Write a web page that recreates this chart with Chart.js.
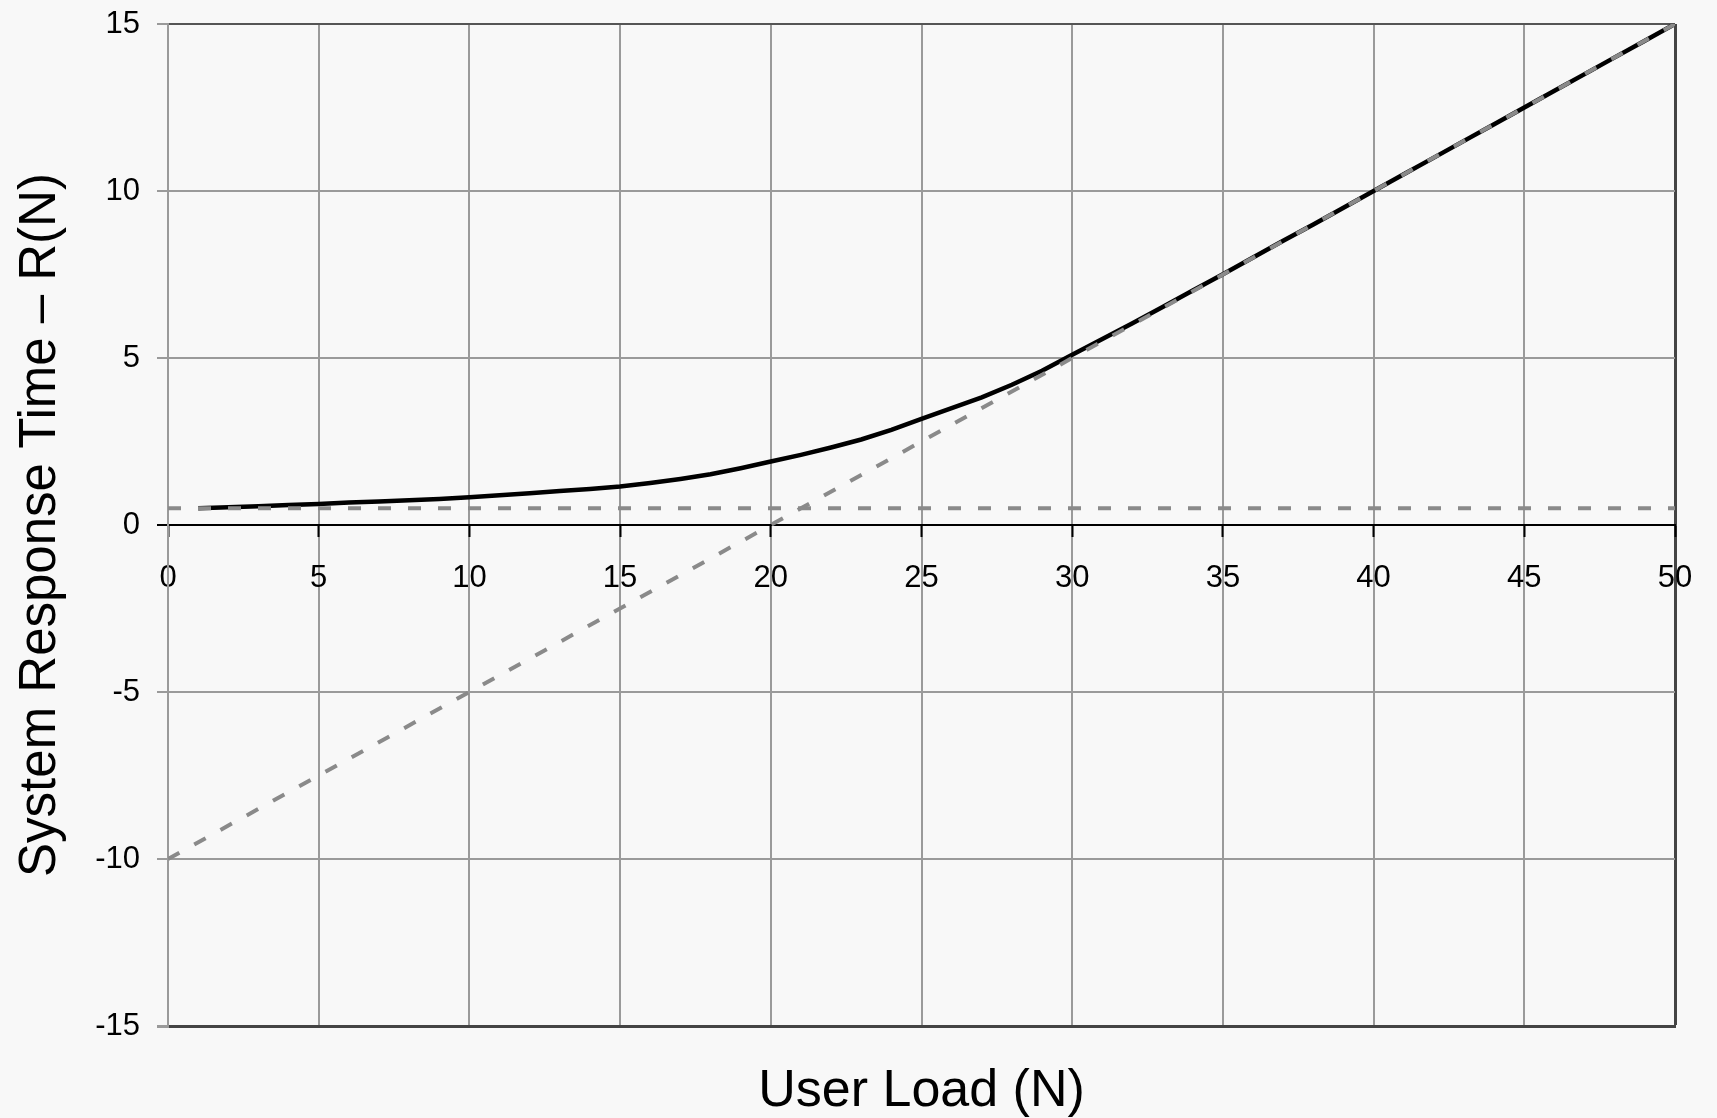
<!DOCTYPE html>
<html>
<head>
<meta charset="utf-8">
<script src="https://cdn.jsdelivr.net/npm/chart.js@4/dist/chart.umd.min.js"></script>
<style>
  html, body { margin: 0; padding: 0; background: #f8f8f8; }
  canvas { display: block; background: #f8f8f8; }
</style>
</head>
<body>
<canvas id="c" width="1717" height="1118"></canvas>
<script>
// User load N and measured response time R(N)
const loadN = [1,2,3,4,5,6,7,8,9,10,11,12,13,14,15,16,17,18,19,20,21,22,23,24,25,26,27,28,29,30,31,32,33,34,35,36,37,38,39,40,41,42,43,44,45,46,47,48,49,50];
const responseTime = [0.50,0.53,0.56,0.60,0.63,0.67,0.70,0.74,0.78,0.83,0.89,0.95,1.02,1.08,1.15,1.26,1.38,1.52,1.70,1.90,2.10,2.32,2.56,2.85,3.18,3.50,3.82,4.20,4.62,5.10,5.57,6.04,6.53,7.02,7.51,8.01,8.51,9.00,9.50,10.00,10.50,11.00,11.50,12.00,12.50,13.00,13.50,14.00,14.50,15.00];
// Asymptotic bounds
const lowerBoundN = [0, 50];
const lowerBoundR = [0.5, 0.5];
const heavyLoadN = [0, 50];
const heavyLoadR = [-10, 15];
// Axis ticks
const xTicks = [0,5,10,15,20,25,30,35,40,45,50];
const yTicks = [-15,-10,-5,0,5,10,15];

const xTitle = 'User Load (N)';
const yTitle = 'System Response Time \u2013 R(N)';

const toPts = (xs, ys) => xs.map((x, i) => ({x: x, y: ys[i]}));
const FONT = "'Liberation Sans', Arial, sans-serif";

new Chart(document.getElementById('c'), {
  type: 'line',
  data: {
    datasets: [
      { data: toPts(lowerBoundN, lowerBoundR), borderColor: '#8a8a8a', borderWidth: 4, borderDash: [13, 17], pointRadius: 0, tension: 0, order: 0 },
      { data: toPts(heavyLoadN, heavyLoadR), borderColor: '#8a8a8a', borderWidth: 4, borderDash: [13, 17], pointRadius: 0, tension: 0, order: 0 },
      { data: toPts(loadN, responseTime), borderColor: '#000', borderWidth: 4.5, pointRadius: 0, tension: 0, order: 1 }
    ]
  },
  options: {
    responsive: false,
    animation: false,
    events: [],
    layout: { padding: { top: 24, right: 42, bottom: 0, left: 0 } },
    plugins: { legend: { display: false }, tooltip: { enabled: false } },
    scales: {
      x: {
        type: 'linear', position: 'bottom', min: 0, max: 50,
        afterBuildTicks: s => { s.ticks = xTicks.map(v => ({value: v})); },
        ticks: { display: false },
        grid: {
          drawTicks: false,
          color: c => c.tick && c.tick.value === 50 ? '#444' : '#9a9a9a',
          lineWidth: c => c.tick && c.tick.value === 50 ? 3 : 2
        },
        border: { color: '#444', width: 3 },
        title: { display: true, text: xTitle, color: '#000', font: { family: FONT, size: 52, lineHeight: 1.0 }, padding: { top: 0, bottom: 0 } },
        afterFit: s => { s.height = 92; s.paddingLeft = 0; s.paddingRight = 0; }
      },
      x2: {
        type: 'linear', position: { y: 0 }, min: 0, max: 50,
        afterBuildTicks: s => { s.ticks = xTicks.map(v => ({value: v})); },
        ticks: { color: '#000', font: { family: FONT, size: 31 }, padding: 24, maxRotation: 0, autoSkip: false },
        grid: { drawOnChartArea: false, drawTicks: true, tickLength: 11, tickColor: '#000', tickWidth: 2 },
        border: { color: '#000', width: 2 },
        afterFit: s => { s.height = 0; s.paddingLeft = 0; s.paddingRight = 0; s.paddingTop = 0; s.paddingBottom = 0; }
      },
      y: {
        type: 'linear', position: 'left', min: -15, max: 15,
        afterBuildTicks: s => { s.ticks = yTicks.map(v => ({value: v})); },
        ticks: { color: '#000', font: { family: FONT, size: 31 }, padding: 17, autoSkip: false },
        grid: {
          tickLength: 11,
          color: c => {
            const v = c.tick && c.tick.value;
            if (v === 0) return '#000';
            if (v === 15) return '#555';
            if (v === -15) return '#444';
            return '#9a9a9a';
          },
          tickColor: c => (c.tick && c.tick.value === 0) ? '#000' : '#9a9a9a',
          lineWidth: c => {
            const v = c.tick && c.tick.value;
            if (v === -15) return 3;
            return 2;
          }
        },
        border: { color: '#9a9a9a', width: 2 },
        title: { display: true, text: yTitle, color: '#000', font: { family: FONT, size: 51 }, padding: { top: 10, bottom: 0 } },
        afterFit: s => { s.width = 168; s.paddingTop = 0; s.paddingBottom = 0; }
      }
    }
  }
});
</script>
</body>
</html>
